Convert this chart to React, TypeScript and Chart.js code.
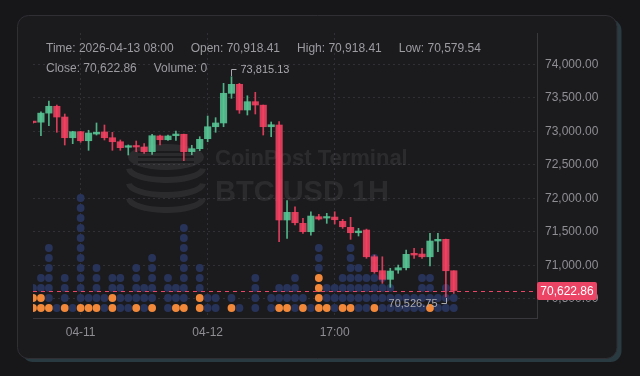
import React, { useEffect, useRef } from 'react';
import { Chart, registerables } from 'chart.js';

Chart.register(...registerables);

// ---- data (index of first candle is -1, it is half hidden at the left edge) ----
const FIRST_INDEX = -1;
const OPEN = [73140, 73136, 73271, 73373, 73213, 72904, 72994, 72859, 72959, 72990, 72904, 72844, 72761, 72780, 72765, 72695, 72930, 72874, 72934, 72955, 72695, 72740, 72889, 73068, 73124, 73567, 73701, 73318, 73442, 73390, 73068, 73094, 71676, 71790, 71626, 71501, 71725, 71705, 71720, 71656, 71566, 71486, 71526, 71127, 70919, 70790, 70929, 70963, 71178, 71168, 71127, 71362, 71387, 70918.41];
const HIGH = [73150, 73292, 73452, 73392, 73258, 73000, 73000, 73015, 73124, 73094, 72985, 72870, 72796, 72855, 72815, 72955, 72944, 72944, 73004, 72960, 72791, 72919, 73228, 73203, 73716, 73815.13, 73716, 73530, 73582, 73392, 73139, 73143, 71964, 71874, 71701, 71799, 71760, 71775, 71799, 71686, 71716, 71551, 71540, 71153, 71127, 70954, 71003, 71227, 71253, 71253, 71477, 71477, 71390, 70918.41];
const LOW = [73120, 72934, 73083, 72985, 72795, 72815, 72835, 72716, 72944, 72870, 72716, 72716, 72646, 72695, 72671, 72656, 72795, 72865, 72865, 72561, 72650, 72710, 72844, 72985, 73068, 73492, 73268, 73243, 73258, 72944, 72919, 71351, 71402, 71601, 71477, 71451, 71676, 71626, 71616, 71551, 71387, 71437, 71104, 70880, 70730, 70671, 70880, 70929, 71104, 71104, 70989, 71202, 70526.75, 70579.54];
const CLOSE = [73130, 73271, 73373, 73213, 72904, 72994, 72859, 72974, 72985, 72904, 72844, 72755, 72785, 72765, 72695, 72934, 72874, 72930, 72959, 72695, 72740, 72880, 73068, 73124, 73567, 73701, 73318, 73442, 73392, 73068, 73098, 71676, 71790, 71635, 71501, 71735, 71690, 71720, 71680, 71575, 71486, 71511, 71127, 70904, 70790, 70914, 70963, 71163, 71153, 71127, 71362, 71387, 70918.41, 70622.86];
// volume shown as stacked dots: total dots per candle, and how many of them (from the bottom) are orange
const VOL_DOTS = [3, 4, 7, 1, 4, 1, 12, 2, 5, 2, 4, 4, 2, 5, 3, 6, 0, 4, 3, 9, 0, 5, 2, 2, 0, 2, 1, 0, 4, 0, 2, 3, 3, 4, 2, 1, 7, 3, 3, 4, 7, 5, 4, 6, 4, 3, 2, 2, 2, 4, 4, 2, 3, 2];
const ORANGE_DOTS = [2, 2, 1, 0, 1, 0, 1, 1, 1, 0, 2, 0, 0, 1, 0, 1, 0, 0, 1, 1, 0, 2, 0, 0, 0, 1, 0, 0, 0, 0, 0, 1, 1, 0, 1, 0, 4, 1, 0, 1, 1, 0, 0, 1, 0, 0, 0, 0, 0, 0, 1, 0, 0, 0];

const X_TICKS = [5, 21, 37];
const X_LABELS = ['04-11', '04-12', '17:00'];
const Y_TICKS = [70500, 71000, 71500, 72000, 72500, 73000, 73500, 74000];
const LAST_PRICE = 70622.86;
const HIGH_MARK_INDEX = 24;
const HIGH_MARK_VALUE = 73815.13;
const LOW_MARK_INDEX = 51;
const LOW_MARK_VALUE = 70526.75;
const HEADER_ROW1 = ['Time: 2026-04-13 08:00', 'Open: 70,918.41', 'High: 70,918.41', 'Low: 70,579.54'];
const HEADER_ROW2 = ['Close: 70,622.86', 'Volume: 0'];
const WATERMARK1 = 'CoinPost Terminal';
const WATERMARK2 = 'BTC/USD 1H';

const FONT = '"Liberation Sans", Arial, sans-serif';
const UP = 'rgba(86, 196, 148, 0.9)';
const DOWN = 'rgba(246, 66, 98, 0.87)';
const NAVY = '#28335a';
const ORANGE = '#f2893a';
const PRICE_RED = '#ec4464';

function rr(ctx: CanvasRenderingContext2D, x: number, y: number, w: number, h: number, r: number) {
  ctx.beginPath();
  ctx.moveTo(x + r, y);
  ctx.lineTo(x + w - r, y);
  ctx.arcTo(x + w, y, x + w, y + r, r);
  ctx.lineTo(x + w, y + h - r);
  ctx.arcTo(x + w, y + h, x + w - r, y + h, r);
  ctx.lineTo(x + r, y + h);
  ctx.arcTo(x, y + h, x, y + h - r, r);
  ctx.lineTo(x, y + r);
  ctx.arcTo(x, y, x + r, y, r);
  ctx.closePath();
}

const fmt = (v: number) => v.toLocaleString('en-US', { minimumFractionDigits: 2, maximumFractionDigits: 2 });

const decor = {
  id: 'decor',
  beforeDraw(chart: any) {
    const { ctx, width, height } = chart;
    ctx.save();
    ctx.fillStyle = '#17171a';
    ctx.fillRect(0, 0, width, height);
    rr(ctx, 22, 19.5, 599.5, 342.5, 11);
    ctx.fillStyle = '#293a41';
    ctx.fill();
    rr(ctx, 17.5, 15.5, 599.5, 343, 11);
    ctx.fillStyle = '#1b1b1e';
    ctx.fill();
    ctx.strokeStyle = '#2f2f34';
    ctx.lineWidth = 1;
    ctx.stroke();
    ctx.restore();
  },
  beforeDatasetsDraw(chart: any) {
    const { ctx } = chart;
    ctx.save();
    const wm = 'rgba(255,255,255,0.075)';
    // coin-stack logo
    ctx.fillStyle = wm;
    ctx.beginPath();
    ctx.ellipse(166, 157, 38, 13, 0, 0, Math.PI * 2);
    ctx.fill();
    ctx.strokeStyle = '#1b1b1e';
    ctx.lineWidth = 2;
    [152, 157, 162].forEach((y) => {
      ctx.beginPath();
      ctx.moveTo(138, y);
      ctx.lineTo(194, y);
      ctx.stroke();
    });
    ctx.strokeStyle = wm;
    ctx.lineWidth = 6;
    [168, 183, 198].forEach((y) => {
      ctx.beginPath();
      ctx.ellipse(166, y, 37, 12, 0, 0.05, Math.PI - 0.05);
      ctx.stroke();
    });
    ctx.fillStyle = wm;
    ctx.textBaseline = 'alphabetic';
    ctx.textAlign = 'left';
    ctx.font = `bold 22px ${FONT}`;
    ctx.fillText(WATERMARK1, 215, 165);
    ctx.font = `bold 29px ${FONT}`;
    ctx.fillText(WATERMARK2, 215, 201);
    ctx.restore();
  },
  afterDatasetsDraw(chart: any) {
    const { ctx, chartArea } = chart;
    const xs = chart.scales.x;
    const ys = chart.scales.y;
    ctx.save();
    // last price dashed line
    const py = Math.round(ys.getPixelForValue(LAST_PRICE)) + 0.5;
    ctx.strokeStyle = PRICE_RED;
    ctx.lineWidth = 1;
    ctx.setLineDash([4, 4]);
    ctx.beginPath();
    ctx.moveTo(chartArea.left, py);
    ctx.lineTo(chartArea.right, py);
    ctx.stroke();
    ctx.setLineDash([]);
    // last price box
    rr(ctx, chartArea.right, py - 9.5, 60, 18, 2);
    ctx.fillStyle = PRICE_RED;
    ctx.fill();
    ctx.fillStyle = '#ffffff';
    ctx.font = `12px ${FONT}`;
    ctx.textAlign = 'center';
    ctx.textBaseline = 'middle';
    ctx.fillText(fmt(LAST_PRICE), chartArea.right + 30, py + 0.5);

    // high marker
    ctx.strokeStyle = '#a9a9ae';
    ctx.fillStyle = '#a9a9ae';
    ctx.font = `11px ${FONT}`;
    const hx = Math.round(xs.getPixelForValue(HIGH_MARK_INDEX)) + 0.5;
    const hy = Math.round(ys.getPixelForValue(HIGH_MARK_VALUE));
    ctx.beginPath();
    ctx.moveTo(hx, hy - 1);
    ctx.lineTo(hx, hy - 7.5);
    ctx.lineTo(hx + 5, hy - 7.5);
    ctx.stroke();
    ctx.textAlign = 'left';
    ctx.fillText(fmt(HIGH_MARK_VALUE), hx + 9, hy - 7);
    // low marker
    const lx = Math.round(xs.getPixelForValue(LOW_MARK_INDEX)) + 0.5;
    const ly = Math.round(ys.getPixelForValue(LOW_MARK_VALUE));
    ctx.beginPath();
    ctx.moveTo(lx, ly + 1);
    ctx.lineTo(lx, ly + 6.5);
    ctx.lineTo(lx - 5, ly + 6.5);
    ctx.stroke();
    ctx.textAlign = 'right';
    ctx.fillText(fmt(LOW_MARK_VALUE), lx - 9, ly + 7);

    // header legend
    ctx.fillStyle = '#9c9ca1';
    ctx.font = `12px ${FONT}`;
    ctx.textAlign = 'left';
    const rows: [string[], number][] = [[HEADER_ROW1, 48.5], [HEADER_ROW2, 68.5]];
    rows.forEach(([items, y]) => {
      let x = 46;
      items.forEach((t) => {
        ctx.fillText(t, x, y);
        x += ctx.measureText(t).width + 17;
      });
    });
    ctx.restore();
  },
};

export default function App() {
  const ref = useRef<HTMLCanvasElement | null>(null);

  useEffect(() => {
    document.body.style.margin = '0';
    const xs = OPEN.map((_, k) => k + FIRST_INDEX);
    const colors = OPEN.map((o, k) => (CLOSE[k] >= o ? UP : DOWN));
    const dotPoints: { x: number; y: number }[] = [];
    const dotColors: string[] = [];
    VOL_DOTS.forEach((n, k) => {
      for (let r = 1; r <= n; r++) {
        dotPoints.push({ x: xs[k], y: r });
        dotColors.push(r <= ORANGE_DOTS[k] ? ORANGE : NAVY);
      }
    });

    const tickFont = { family: FONT, size: 12 };
    const chart = new Chart(ref.current as HTMLCanvasElement, {
      type: 'bar',
      data: {
        datasets: [
          {
            type: 'bar',
            label: 'body',
            data: xs.map((x, k) => ({ x, y: [OPEN[k], CLOSE[k]] })) as any,
            backgroundColor: colors,
            borderWidth: 0,
            barThickness: 6.5,
            minBarLength: 1.5,
            grouped: false,
            order: 0,
            clip: 0,
            yAxisID: 'y',
          } as any,
          {
            type: 'bar',
            label: 'wick',
            data: xs.map((x, k) => ({ x, y: [LOW[k], HIGH[k]] })) as any,
            backgroundColor: colors,
            borderWidth: 0,
            barThickness: 1,
            grouped: false,
            order: 1,
            clip: 0,
            yAxisID: 'y',
          } as any,
          {
            type: 'scatter',
            label: 'volume',
            data: dotPoints as any,
            pointRadius: 3.9,
            pointBorderWidth: 0,
            pointBackgroundColor: dotColors,
            pointHoverRadius: 3.9,
            order: 2,
            clip: 0,
            yAxisID: 'yv',
          } as any,
        ],
      },
      options: {
        responsive: false,
        devicePixelRatio: 1,
        animation: false,
        events: [],
        layout: { padding: { left: 33, top: 33, right: 0, bottom: 0 } },
        plugins: { legend: { display: false }, tooltip: { enabled: false } },
        scales: {
          x: {
            type: 'linear',
            position: 'bottom',
            offset: false,
            min: -1,
            max: 62.48,
            afterBuildTicks: (s: any) => {
              s.ticks = X_TICKS.map((v) => ({ value: v }));
            },
            afterFit: (s: any) => {
              s.height = 58;
            },
            ticks: {
              callback: (v: any) => {
                const i = X_TICKS.indexOf(Number(v));
                return i >= 0 ? X_LABELS[i] : '';
              },
              color: '#8e8e93',
              font: tickFont,
              padding: 7,
              maxRotation: 0,
              autoSkip: false,
            },
            grid: { color: '#303035', drawTicks: false, lineWidth: 1, offset: false },
            border: { display: true, color: '#38383d', width: 1, dash: [2, 3] },
          },
          y: {
            type: 'linear',
            position: 'right',
            min: 70213,
            max: 74467,
            afterBuildTicks: (s: any) => {
              s.ticks = Y_TICKS.map((v) => ({ value: v }));
            },
            afterFit: (s: any) => {
              s.width = 103;
            },
            ticks: {
              callback: (v: any) => fmt(Number(v)),
              color: '#8e8e93',
              font: tickFont,
              padding: 8,
            },
            grid: { color: '#303035', drawTicks: false, lineWidth: 1 },
            border: { display: true, color: '#38383d', width: 1, dash: [2, 3] },
          },
          yv: {
            type: 'linear',
            display: false,
            min: 0,
            max: 28.5,
          },
        },
      } as any,
      plugins: [decor as any],
    });
    return () => chart.destroy();
  }, []);

  return (
    <div style={{ position: 'fixed', left: 0, top: 0, width: 640, height: 376, background: '#17171a' }}>
      <canvas ref={ref} width={640} height={376} style={{ display: 'block', width: 640, height: 376 }} />
    </div>
  );
}
